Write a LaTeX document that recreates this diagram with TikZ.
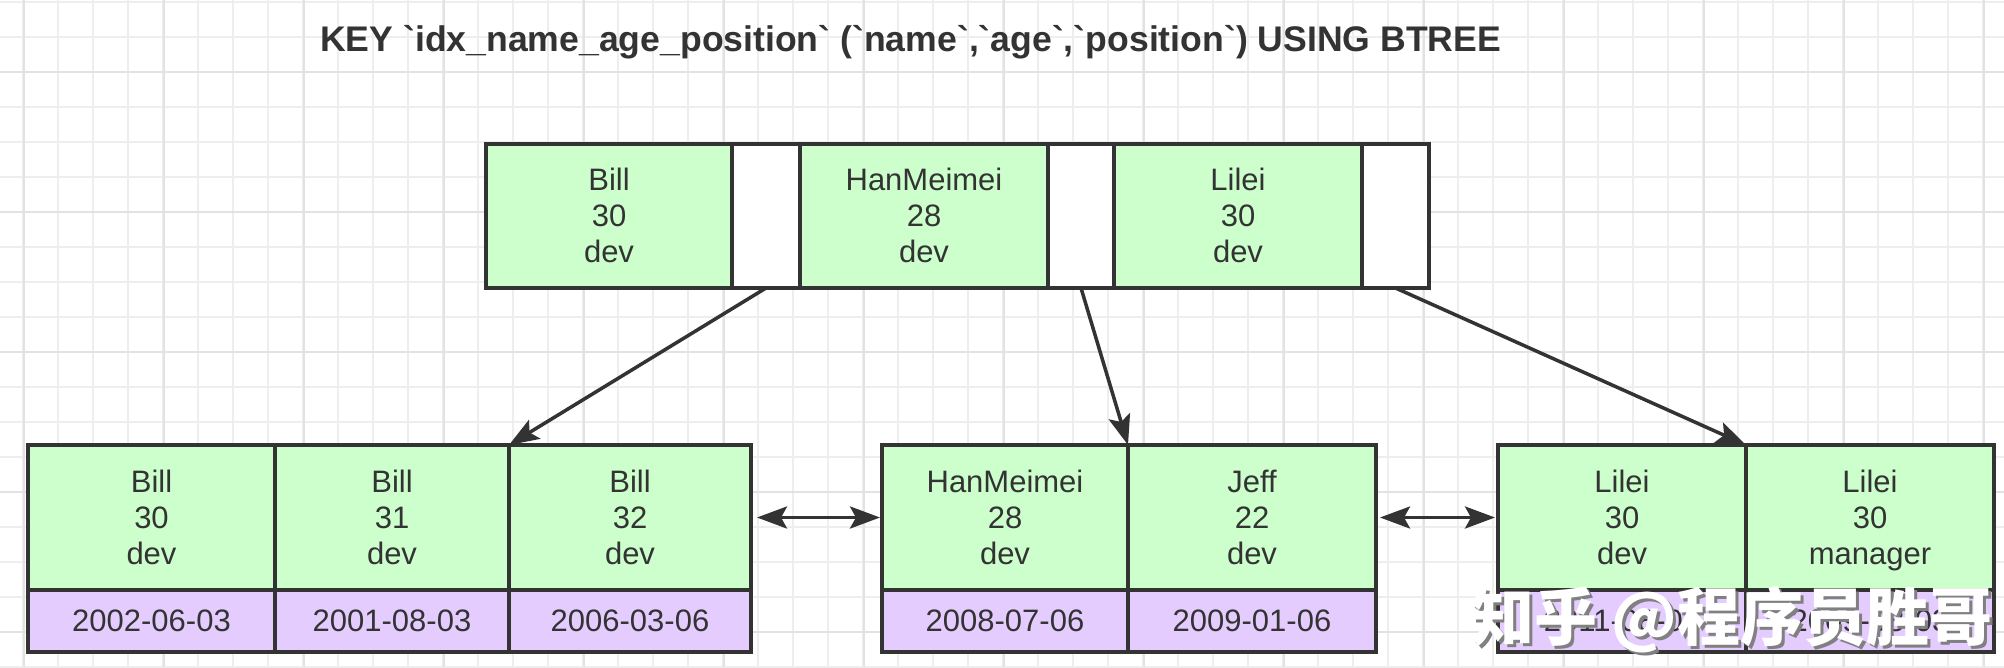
\documentclass[tikz,border=0pt]{standalone}
\usepackage{fontspec}
\setmainfont{Liberation Sans}
\newfontfamily\cjkfont{Noto Sans CJK SC}
\font\titlef="Liberation Sans/B" at 35.6pt
\usetikzlibrary{arrows.meta}
\newcommand{\tstrut}{\rule{0pt}{32pt}}
\definecolor{gfill}{RGB}{204,255,204}
\definecolor{pfill}{RGB}{229,204,255}
\definecolor{edge}{RGB}{51,51,51}
\definecolor{txt}{RGB}{51,51,51}
\definecolor{gminor}{RGB}{238,238,238}
\definecolor{gmajor}{RGB}{226,226,226}
\tikzset{
  cellbase/.style={draw=edge, line width=4pt, rectangle, inner sep=0pt, outer sep=0pt,
    text=txt, align=center, font=\fontsize{31}{36}\selectfont},
  gcell/.style={cellbase, fill=gfill, minimum height=145pt},
  tcell/.style={cellbase, fill=gfill, minimum height=144pt},
  wcell/.style={cellbase, fill=white, minimum height=144pt},
  pcell/.style={cellbase, fill=pfill, minimum height=62pt},
  tip/.tip={Stealth[length=30pt,width=22pt,inset=6pt]},
  link/.style={draw=edge, line width=3.5pt, -tip},
  dbl/.style={draw=edge, line width=3.5pt, tip-tip},
  minorline/.style={draw=gminor, line width=1.5pt},
  majorline/.style={draw=gmajor, line width=2pt},
}
\begin{document}
\begin{tikzpicture}[x=1pt,y=-1pt]
\useasboundingbox (0,0) rectangle (2004,667);
\fill[white] (0,0) rectangle (2004,667);
% grid
\foreach \y in {2,37,...,667} \draw[minorline] (0,\y) -- (2004,\y);
\foreach \x in {23,58,...,2004} \draw[minorline] (\x,0) -- (\x,667);
\foreach \y in {72,212,...,667} \draw[majorline] (0,\y) -- (2004,\y);
\foreach \x in {24,164,...,2004} \draw[majorline] (\x,0) -- (\x,667);
% title
\node[anchor=west, text=txt, inner sep=0pt, font=\titlef] (title) at (320,42)
  {KEY `idx\_name\_age\_position` (`name`,`age`,`position`) USING BTREE};
% top node
\node[tcell, minimum width=246pt] (t1) at (609,216) {\tstrut Bill\\30\\dev\strut};
\node[wcell, minimum width=68pt] (w1) at (766,216) {};
\node[tcell, minimum width=248pt] (t2) at (924,216) {\tstrut HanMeimei\\28\\dev\strut};
\node[wcell, minimum width=66pt] (w2) at (1081,216) {};
\node[tcell, minimum width=248pt] (t3) at (1238,216) {\tstrut Lilei\\30\\dev\strut};
\node[wcell, minimum width=67pt] (w3) at (1395.5,216) {};
% leaf 1
\node[gcell, minimum width=247pt] (a1) at (151.5,517.5) {\tstrut Bill\\30\\dev\strut};
\node[pcell, minimum width=247pt] (a1d) at (151.5,621) {2002-06-03};
\node[gcell, minimum width=234pt] (a2) at (392,517.5) {\tstrut Bill\\31\\dev\strut};
\node[pcell, minimum width=234pt] (a2d) at (392,621) {2001-08-03};
\node[gcell, minimum width=242pt] (a3) at (630,517.5) {\tstrut Bill\\32\\dev\strut};
\node[pcell, minimum width=242pt] (a3d) at (630,621) {2006-03-06};
% leaf 2
\node[gcell, minimum width=246pt] (b1) at (1005,517.5) {\tstrut HanMeimei\\28\\dev\strut};
\node[pcell, minimum width=246pt] (b1d) at (1005,621) {2008-07-06};
\node[gcell, minimum width=248pt] (b2) at (1252,517.5) {\tstrut Jeff\\22\\dev\strut};
\node[pcell, minimum width=248pt] (b2d) at (1252,621) {2009-01-06};
% leaf 3
\node[gcell, minimum width=248pt] (c1) at (1622,517.5) {\tstrut Lilei\\30\\dev\strut};
\node[pcell, minimum width=248pt] (c1d) at (1622,621) {2011-08-07};
\node[gcell, minimum width=248pt] (c2) at (1870,517.5) {\tstrut Lilei\\30\\manager\strut};
\node[pcell, minimum width=248pt] (c2d) at (1870,621) {2009-08-03};
% connectors
\draw[link] (w1.south) -- (a3.north west);
\draw[link] (w2.south) -- (b2.north west);
\draw[link] (w3.south) -- (c2.north west);
\draw[dbl] ([xshift=6pt]a3.east) -- ([xshift=-2pt]b1.west);
\draw[dbl] ([xshift=4pt]b2.east) -- ([xshift=-3pt]c1.west);
% watermark
\node[text=black!50, font=\cjkfont\bfseries\fontsize{63}{66}\selectfont, inner sep=0pt] (wmshadow) at (1735,623) {知乎 @程序员胜哥};
\node[text=white, font=\cjkfont\bfseries\fontsize{63}{66}\selectfont, inner sep=0pt] (wm) at (1732,620) {知乎 @程序员胜哥};
\end{tikzpicture}
\end{document}
